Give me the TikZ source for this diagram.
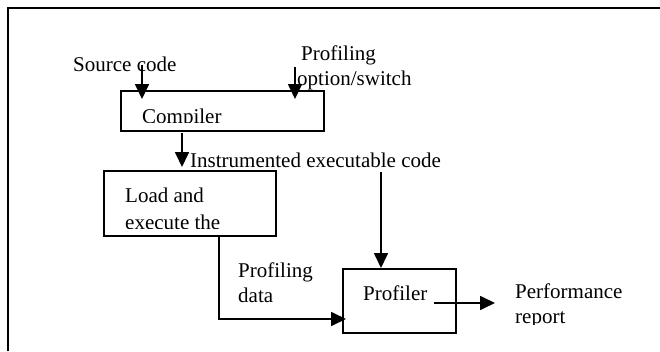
\documentclass[tikz,border=0pt]{standalone}
\usepackage{fontspec}
\setmainfont{Liberation Serif}
\usetikzlibrary{arrows.meta}
\begin{document}
\begin{tikzpicture}[x=1pt,y=-1pt,
  box/.style={draw, line width=1.7pt, inner sep=0pt},
  lbl/.style={anchor=base west, inner sep=0pt, font=\fontsize{21}{25}\selectfont},
  flow/.style={line width=1.7pt, -{Triangle[length=15pt,width=14pt]}},
  frame/.style={line width=2pt}]
\useasboundingbox (0,0) rectangle (660,351);

% outer frame (top and left edges)
\draw[frame] (8,351) -- (8,8) -- (661,8);

% process boxes
\node[box, minimum width=203pt, minimum height=40pt] (compiler) at (222.5,111) {};
\node[box, minimum width=172pt, minimum height=65pt] (load) at (190,203.5) {};
\node[box, minimum width=113pt, minimum height=64pt] (profiler) at (399.5,301) {};

% box texts, cut off at the inner margin of their boxes
\begin{scope}
  \clip (121,91) rectangle (324,122);
  \node[lbl] (compilerText) at (142,123) {Compiler};
\end{scope}
\begin{scope}
  \clip (104,171) rectangle (276,228);
  \node[lbl] (loadTextA) at (125,202) {Load and};
  \node[lbl] (loadTextB) at (125,229) {execute the};
\end{scope}
\node[lbl] (profilerText) at (363,300) {Profiler};

% free labels
\node[lbl] (srcText) at (73,71) {Source code};
\node[lbl] (optTextA) at (301,60) {Profiling};
\node[lbl] (optTextB) at (297,85.5) {option/switch};
\node[lbl] (instrText) at (190,167) {Instrumented executable code};
\node[lbl] (dataTextA) at (238,277) {Profiling};
\node[lbl] (dataTextB) at (238,302) {data};
\node[lbl] (perfTextA) at (515,298) {Performance};
\begin{scope}
  \clip (500,305) rectangle (660,324);
  \node[lbl] (perfTextB) at (515,323) {report};
\end{scope}

% connector end points
\coordinate (srcTail) at (142,65);
\coordinate (srcHead) at (142,99);
\coordinate (optTail) at (295,67);
\coordinate (optHead) at (295,99);
\coordinate (compOut) at (182,133);
\coordinate (compHead) at (182,167);
\coordinate (instrTail) at (381,172);
\coordinate (instrHead) at (381,268);
\coordinate (loadOut) at (219,236);
\coordinate (dataHead) at (346,319);
\coordinate (reportTail) at (434,303);
\coordinate (reportHead) at (495,303);

% connectors
\draw[flow] (srcTail) -- (srcHead);
\draw[flow] (optTail) -- (optHead);
\draw[flow] (compOut) -- (compHead);
\draw[flow] (instrTail) -- (instrHead);
\draw[flow] (loadOut) |- (dataHead);
\draw[flow] (reportTail) -- (reportHead);
\end{tikzpicture}
\end{document}
